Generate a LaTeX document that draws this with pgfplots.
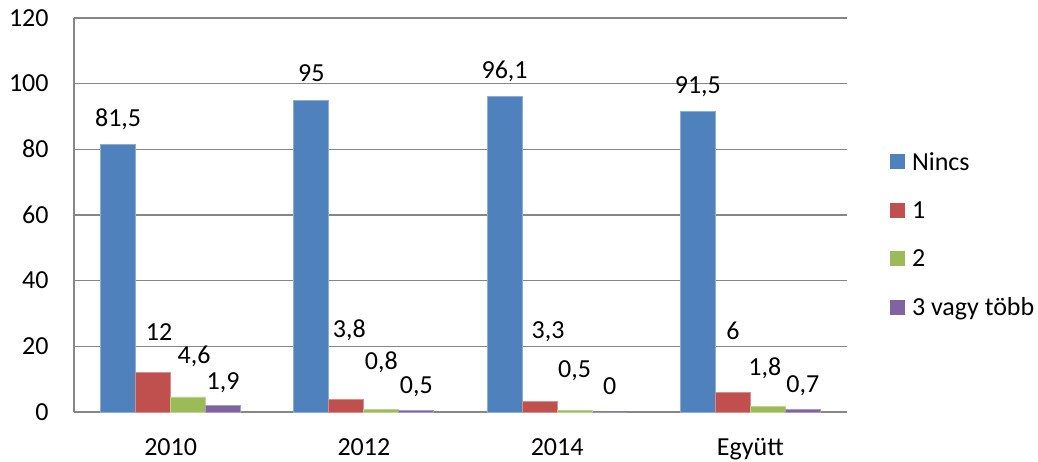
\documentclass[border=0pt]{standalone}
\usepackage{pgfplots}
\usepackage{pgfplotstable}
\pgfplotsset{compat=1.18}
\usepackage{fontspec}
\setmainfont{Carlito}
\definecolor{cBlue}{RGB}{79,129,189}
\definecolor{cRed}{RGB}{192,80,77}
\definecolor{cGreen}{RGB}{155,187,89}
\definecolor{cPurple}{RGB}{128,100,162}
\definecolor{cGrid}{RGB}{134,134,134}
\newcommand{\fs}{\fontsize{13pt}{15pt}\selectfont}

\pgfplotstableread{
x y lab dx dy
0 81.5 81,5 0 13.2
1 95 95 0 13.2
2 96.1 96,1 0 13.2
3 91.5 91,5 0 13.2
}\tNincs
\pgfplotstableread{
x y lab dx dy
0 12 12 3 20.3
1 3.8 3,8 1.5 35
2 3.3 3,3 4.2 35.6
3 6 6 0 30.4
}\tOne
\pgfplotstableread{
x y lab dx dy
0 4.6 4,6 3 20.95
1 0.8 0,8 0 24.2
2 0.5 0,5 0 20.45
3 1.8 1,8 -1.5 19.3
}\tTwo
\pgfplotstableread{
x y lab dx dy
0 1.9 1,9 0 12.4
1 0.5 0,5 0 12.7
2 0 0 0 13
3 0.7 0,7 0 12.85
}\tThree

\begin{document}
\begin{tikzpicture}
\begin{axis}[
  at={(0pt,0pt)}, anchor=south west,
  scale only axis,
  width=386.5pt, height=197pt,
  ybar=0pt, bar width=17.5pt,
  xmin=-0.5, xmax=3.5,
  ymin=0, ymax=120,
  ytick={0,20,...,120},
  xtick={0,1,2,3},
  xticklabels={2010,2012,2014,Együtt},
  major tick length=0pt,
  axis lines*=left,
  axis line style={draw=cGrid, line width=0.7pt},
  ymajorgrids,
  major grid style={draw=cGrid, line width=0.6pt},
  /pgf/number format/assume math mode=true,
  tick label style={font=\fs, inner sep=0pt},
  y tick label style={anchor=east, xshift=-12.5pt, text height=8.2pt, text depth=0pt},
  x tick label style={anchor=base, yshift=-21.5pt},
  point meta=explicit symbolic,
  nodes near coords={\pgfplotspointmeta},
  visualization depends on={\thisrow{dx} \as \mydx},
  visualization depends on={\thisrow{dy} \as \mydy},
  every node near coord/.append style={font=\fs, inner sep=0pt, text height=8.2pt, text depth=0pt, anchor=center, xshift=\mydx pt, yshift=\mydy pt, text=black},
  legend cell align=left,
  legend style={draw=none, fill=none, inner sep=0pt, at={(1.05563,0.6566)}, anchor=north west,
    font=\fs, row sep=16pt, column sep=3.3pt,
    nodes={inner sep=0pt, text height=8.2pt, text depth=0pt}},
  legend image code/.code={\path[#1,draw=none] (0pt,-3.75pt) rectangle (7.5pt,3.75pt);},
]
\addplot[fill=cBlue, draw=cBlue!65!white, line width=0.4pt] table[x=x,y=y,meta=lab] {\tNincs};
\addlegendentry{Nincs}
\addplot[fill=cRed, draw=cRed!65!white, line width=0.4pt] table[x=x,y=y,meta=lab] {\tOne};
\addlegendentry{1}
\addplot[fill=cGreen, draw=cGreen!65!white, line width=0.4pt] table[x=x,y=y,meta=lab] {\tTwo};
\addlegendentry{2}
\addplot[fill=cPurple, draw=cPurple!65!white, line width=0.4pt] table[x=x,y=y,meta=lab] {\tThree};
\addlegendentry{3 vagy több}
\end{axis}
\pgfresetboundingbox
\path[use as bounding box] (-37pt,-24.5pt) rectangle (482pt,206pt);
\end{tikzpicture}
\end{document}
